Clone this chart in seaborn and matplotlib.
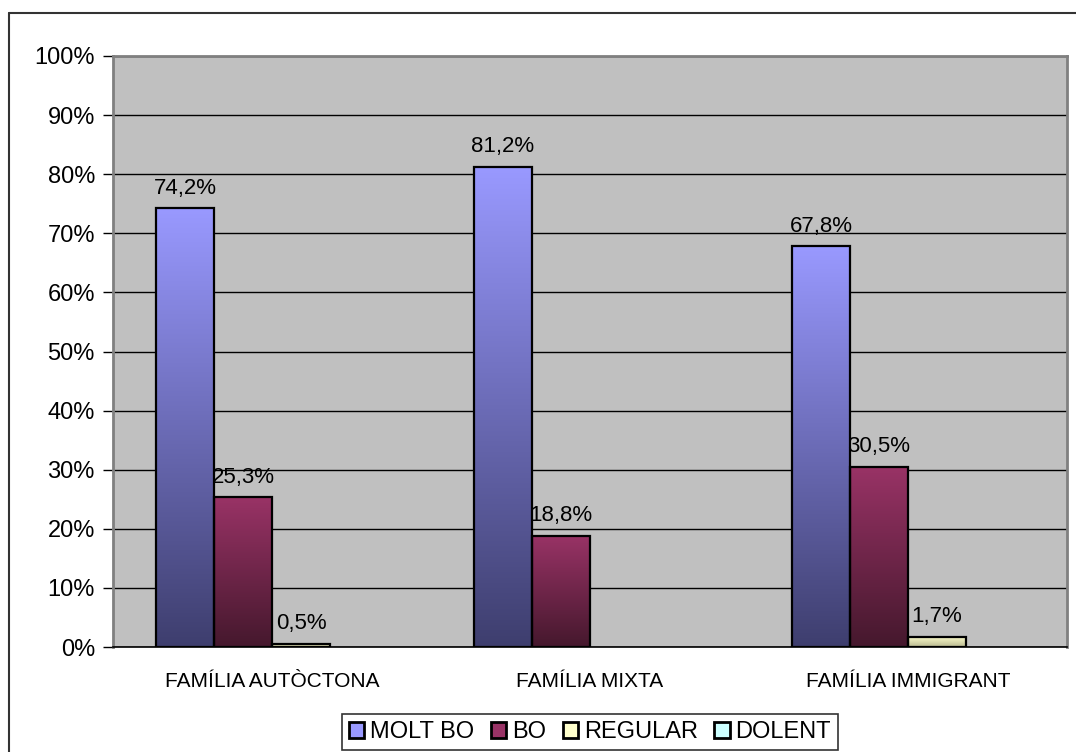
import numpy as np
import pandas as pd
import seaborn as sns
import matplotlib.pyplot as plt
from matplotlib.colors import LinearSegmentedColormap
from matplotlib.patches import Patch
from matplotlib.lines import Line2D

categories = ['FAMÍLIA AUTÒCTONA', 'FAMÍLIA MIXTA', 'FAMÍLIA IMMIGRANT']
levels = ['MOLT BO', 'BO', 'REGULAR', 'DOLENT']
molt_bo = [74.2, 81.2, 67.8]
bo = [25.3, 18.8, 30.5]
regular = [0.5, 0.0, 1.7]
dolent = [0.0, 0.0, 0.0]

top_colors = ['#9999FF', '#993366', '#FFFFCC', '#CCFFFF']
bottom_colors = ['#3E3E6E', '#45182D', '#B8B890', '#90B4B4']

df = pd.DataFrame({
    'categoria': categories * 4,
    'valoracio': [l for l in levels for _ in categories],
    'valor': molt_bo + bo + regular + dolent,
})

sns.set_style('white')
plt.rcParams['font.family'] = ['Liberation Sans', 'DejaVu Sans']
plt.rcParams['text.color'] = 'black'
plt.rcParams['xtick.color'] = 'black'
plt.rcParams['ytick.color'] = 'black'

fig = plt.figure(figsize=(10.76, 7.52), dpi=100)
ax = fig.add_axes([113 / 1076, 1 - 647 / 752, (1067 - 113) / 1076, (647 - 56) / 752])
ax.set_facecolor('#C0C0C0')

sns.barplot(data=df, x='categoria', y='valor', hue='valoracio', hue_order=levels,
            palette=top_colors, width=0.73, saturation=1, edgecolor='black',
            linewidth=1.6, legend=False, ax=ax, zorder=3)

# gradient fill inside each bar
for cont, top, bot in zip(ax.containers, top_colors, bottom_colors):
    cmap = LinearSegmentedColormap.from_list('g', [bot, top])
    for bar in cont:
        h = bar.get_height()
        if h <= 0:
            bar.set_linewidth(0)
            continue
        x0 = bar.get_x()
        w = bar.get_width()
        grad = np.linspace(0, 1, 256).reshape(-1, 1)
        im = ax.imshow(grad, cmap=cmap, origin='lower', aspect='auto',
                       extent=[x0, x0 + w, 0, h], zorder=2.5)
        im.set_clip_path(bar)
        bar.set_facecolor('none')
        ax.annotate(f'{h:.1f}%'.replace('.', ','), (x0 + w / 2, h),
                    xytext=(0, 7), textcoords='offset points',
                    ha='center', va='bottom', fontsize=16, color='black')

ax.set_xlim(-0.5, 2.5)
ax.set_ylim(0, 100)

ax.set_yticks(np.arange(0, 101, 10))
ax.set_yticklabels([f'{v}%' for v in range(0, 101, 10)], fontsize=17)
ax.yaxis.grid(True, color='black', linewidth=1)
ax.set_axisbelow(True)

ax.set_xticks([0, 1, 2])
ax.set_xticklabels(categories, fontsize=15)
ax.set_xticks([-0.5, 0.5, 1.5, 2.5], minor=True)
ax.tick_params(axis='x', which='major', length=0, pad=18)
ax.tick_params(axis='x', which='minor', length=7, width=1, color='black', direction='out')
ax.tick_params(axis='y', length=7, width=1, color='black', direction='out', left=True, pad=6)
ax.set_xlabel('')
ax.set_ylabel('')

for side in ['left', 'top', 'right']:
    ax.spines[side].set_color('#808080')
    ax.spines[side].set_linewidth(2)
ax.spines['bottom'].set_color('black')
ax.spines['bottom'].set_linewidth(1.2)

handles = [Patch(facecolor=c, edgecolor='black', linewidth=2) for c in top_colors]
leg = fig.legend(handles, levels, loc='center', bbox_to_anchor=(590 / 1076, 1 - 732 / 752),
                 ncol=4, fontsize=17, frameon=True, fancybox=False, edgecolor='black',
                 handlelength=0.65, handleheight=0.65, handletextpad=0.25,
                 columnspacing=0.7, borderpad=0.3, borderaxespad=0)
leg.get_frame().set_linewidth(1.2)
for t in leg.get_texts():
    t.set_color('black')

# outer chart border
fig.add_artist(Line2D([9 / 1076, 9 / 1076], [0, 1 - 13 / 752], color='#333333', linewidth=1.5))
fig.add_artist(Line2D([9 / 1076, 1], [1 - 13 / 752, 1 - 13 / 752], color='#333333', linewidth=1.5))

fig.savefig('out.png', dpi=100)
